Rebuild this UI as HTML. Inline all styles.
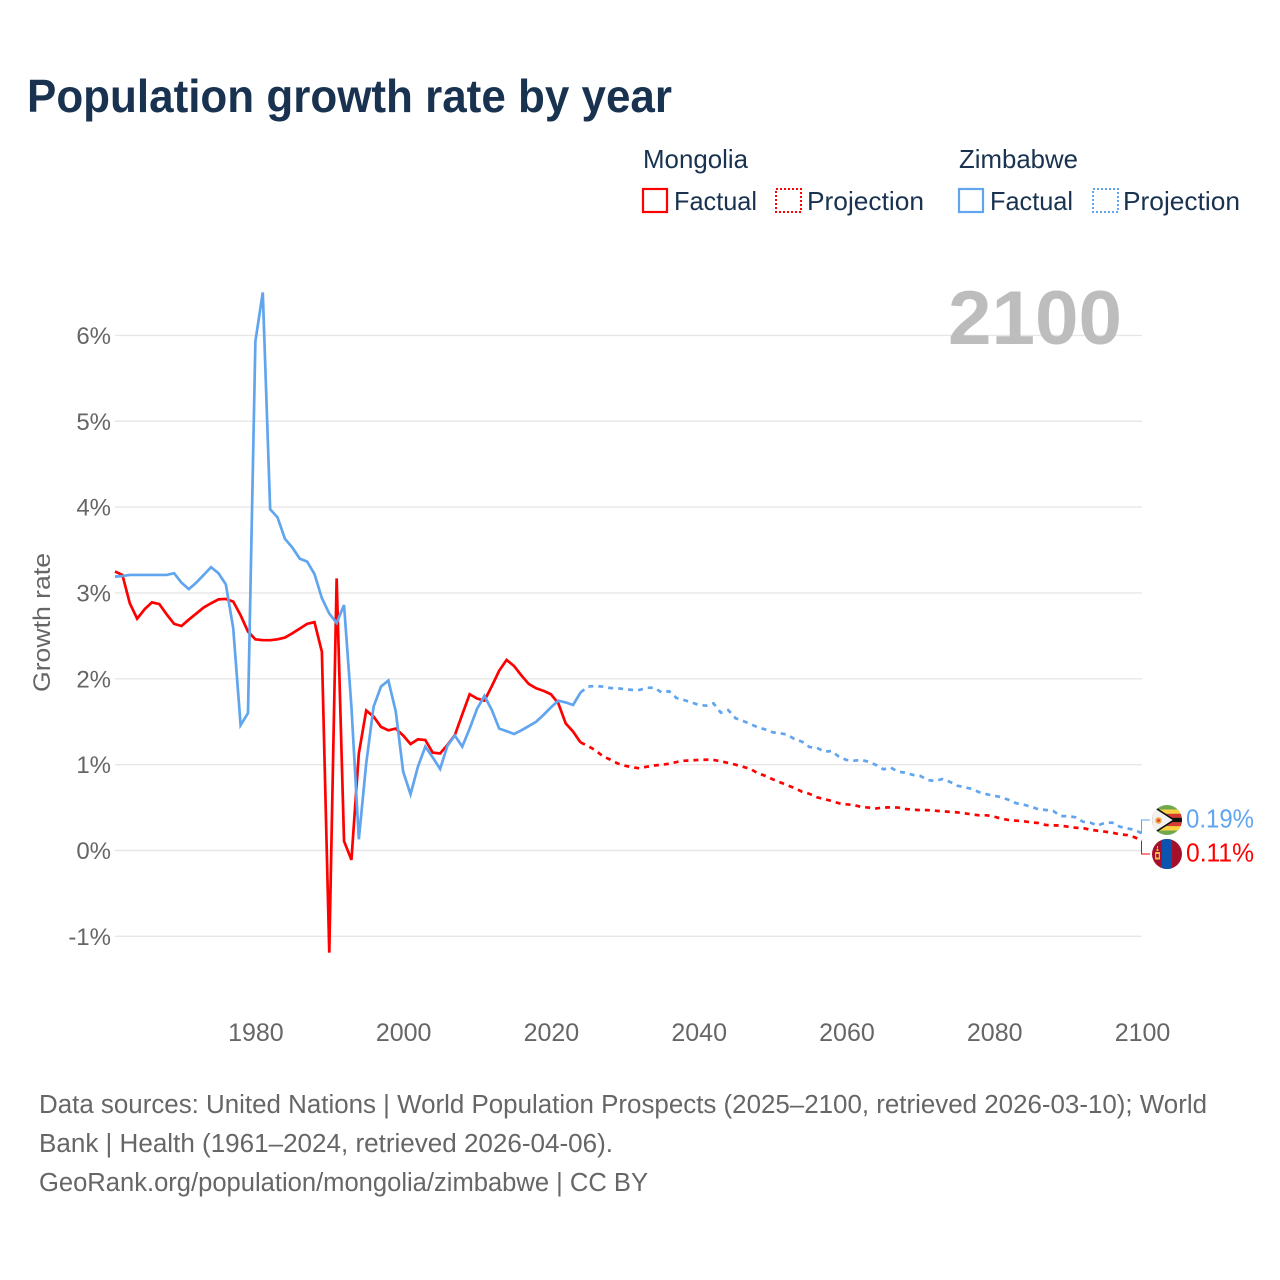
<!DOCTYPE html>
<html lang="en">
<head>
<meta charset="utf-8">
<title>Population growth rate by year</title>
<style>
html,body{margin:0;padding:0;background:#fff;}
svg{display:block;font-family:"Liberation Sans",sans-serif;}
</style>
</head>
<body>
<svg id="chart" xmlns="http://www.w3.org/2000/svg" width="1280" height="1280" viewBox="0 0 1280 1280">
  <rect width="1280" height="1280" fill="#fff"/>
  <text x="27" y="112" font-size="46" font-weight="700" fill="#18324f" textLength="645" lengthAdjust="spacingAndGlyphs">Population growth rate by year</text>

  <g font-size="26" fill="#18324f">
    <text x="643" y="168" textLength="105" lengthAdjust="spacingAndGlyphs">Mongolia</text>
    <g>
      <rect x="643" y="189" width="24" height="23" fill="none" stroke="#ff0000" stroke-width="2.2"/>
      <text x="674" y="210" textLength="83" lengthAdjust="spacingAndGlyphs">Factual</text>
    </g>
    <g>
      <rect x="776" y="189" width="25" height="23" fill="none" stroke="#ff0000" stroke-width="2" stroke-dasharray="2 2"/>
      <text x="807" y="210" textLength="117" lengthAdjust="spacingAndGlyphs">Projection</text>
    </g>
    <text x="959" y="168" textLength="119" lengthAdjust="spacingAndGlyphs">Zimbabwe</text>
    <g>
      <rect x="959" y="189" width="24" height="23" fill="none" stroke="#60a5ee" stroke-width="2.2"/>
      <text x="990" y="210" textLength="83" lengthAdjust="spacingAndGlyphs">Factual</text>
    </g>
    <g>
      <rect x="1093" y="189" width="25" height="23" fill="none" stroke="#60a5ee" stroke-width="2" stroke-dasharray="2 2"/>
      <text x="1123" y="210" textLength="117" lengthAdjust="spacingAndGlyphs">Projection</text>
    </g>
  </g>

  <text transform="translate(50,622.5) rotate(-90)" text-anchor="middle" font-size="24" fill="#666" textLength="139" lengthAdjust="spacingAndGlyphs">Growth rate</text>

  <g id="grid"></g>
  <g id="y-ticks"></g>
  <g id="x-ticks"></g>

  <text x="948" y="344" font-size="76" font-weight="700" fill="#bdbdbd" textLength="174" lengthAdjust="spacingAndGlyphs">2100</text>

  <g id="series"></g>
  <g id="end-labels"></g>

  <defs>
    <clipPath id="clip-zw"><circle cx="1167" cy="820" r="15"/></clipPath>
    <clipPath id="clip-mn"><circle cx="1167" cy="854" r="15"/></clipPath>
  </defs>
  <g clip-path="url(#clip-zw)">
    <rect x="1150" y="805" width="34" height="30" fill="#6fa84f"/>
    <rect x="1150" y="809.5" width="34" height="4.3" fill="#ffd23f"/>
    <rect x="1150" y="813.8" width="34" height="4" fill="#d93a32"/>
    <rect x="1150" y="817.8" width="34" height="4.4" fill="#111"/>
    <rect x="1150" y="822.2" width="34" height="4" fill="#d93a32"/>
    <rect x="1150" y="826.2" width="34" height="4.3" fill="#ffd23f"/>
    <polygon points="1148,803 1174,820 1148,837" fill="#f1f1f1" stroke="#111" stroke-width="1.6"/>
    <circle cx="1158.5" cy="820.5" r="3.2" fill="#f2a33c"/>
    <circle cx="1158.5" cy="820.5" r="1.4" fill="#d93a32"/>
  </g>
  <g clip-path="url(#clip-mn)">
    <rect x="1150" y="838" width="34" height="32" fill="#a5102b"/>
    <rect x="1161.5" y="838" width="10.5" height="32" fill="#0b54b0"/>
    <rect x="1155" y="852" width="5" height="2" fill="#f0c040"/>
    <rect x="1155" y="857.5" width="5" height="2" fill="#f0c040"/>
    <rect x="1155" y="854" width="1.2" height="3.5" fill="#f0c040"/>
    <rect x="1158.8" y="854" width="1.2" height="3.5" fill="#f0c040"/>
    <circle cx="1157.5" cy="850" r="1.1" fill="#f0c040"/>
    <rect x="1157" y="846" width="1" height="2.5" fill="#f0c040"/>
  </g>

  <g font-size="25.5" fill="#666">
    <text x="39" y="1113" textLength="1168" lengthAdjust="spacingAndGlyphs">Data sources: United Nations | World Population Prospects (2025–2100, retrieved 2026-03-10); World</text>
    <text x="39" y="1152" textLength="574" lengthAdjust="spacingAndGlyphs">Bank | Health (1961–2024, retrieved 2026-04-06).</text>
    <text x="39" y="1191" textLength="609" lengthAdjust="spacingAndGlyphs">GeoRank.org/population/mongolia/zimbabwe | CC BY</text>
  </g>
</svg>
<script>
const xTickYears = [1980, 2000, 2020, 2040, 2060, 2080, 2100];
const yTickValues = [-1, 0, 1, 2, 3, 4, 5, 6];
const factualStartYear = 1961;
const projectionStartYear = 2024;

const mongoliaFactual = [3.25,3.21,2.88,2.70,2.81,2.89,2.87,2.75,2.64,2.615,2.69,2.76,2.83,2.88,2.925,2.93,2.90,2.74,2.55,2.46,2.45,2.45,2.46,2.48,2.53,2.585,2.64,2.66,2.315,-1.19,3.17,0.11,-0.11,1.13,1.63,1.56,1.44,1.40,1.42,1.34,1.24,1.295,1.287,1.14,1.13,1.23,1.345,1.585,1.82,1.77,1.745,1.915,2.095,2.22,2.15,2.04,1.94,1.89,1.86,1.82,1.715,1.48,1.385,1.26];
const mongoliaProjection = [1.26,1.217,1.17,1.10,1.06,1.015,0.988,0.97,0.957,0.976,0.99,1.0,1.01,1.03,1.045,1.05,1.055,1.058,1.055,1.04,1.02,1.0,0.975,0.95,0.90,0.87,0.83,0.795,0.76,0.725,0.685,0.66,0.62,0.60,0.576,0.55,0.538,0.53,0.507,0.50,0.49,0.50,0.503,0.50,0.483,0.475,0.47,0.47,0.464,0.456,0.45,0.444,0.433,0.42,0.41,0.41,0.394,0.37,0.355,0.347,0.34,0.328,0.32,0.297,0.293,0.29,0.277,0.265,0.262,0.242,0.23,0.219,0.207,0.188,0.18,0.154,0.115];
const zimbabweFactual = [3.19,3.197,3.21,3.21,3.21,3.21,3.21,3.21,3.23,3.12,3.045,3.12,3.21,3.30,3.23,3.10,2.59,1.46,1.60,5.93,6.50,3.975,3.88,3.63,3.53,3.40,3.365,3.22,2.94,2.76,2.65,2.86,1.675,0.13,1.015,1.675,1.91,1.98,1.62,0.92,0.655,0.977,1.21,1.085,0.95,1.22,1.34,1.21,1.42,1.65,1.80,1.637,1.42,1.39,1.357,1.40,1.45,1.50,1.58,1.667,1.745,1.725,1.695,1.84];
const zimbabweProjection = [1.84,1.91,1.915,1.91,1.893,1.89,1.88,1.87,1.87,1.896,1.896,1.84,1.855,1.776,1.753,1.726,1.695,1.687,1.714,1.605,1.636,1.54,1.508,1.473,1.435,1.41,1.377,1.365,1.35,1.295,1.267,1.205,1.197,1.15,1.16,1.09,1.055,1.046,1.055,1.034,0.996,0.946,0.965,0.918,0.906,0.88,0.868,0.82,0.81,0.833,0.80,0.755,0.736,0.716,0.678,0.655,0.638,0.62,0.588,0.55,0.533,0.51,0.48,0.472,0.46,0.40,0.40,0.387,0.335,0.324,0.29,0.324,0.324,0.277,0.258,0.24,0.20];
const mongoliaEndLabel = "0.11%";
const zimbabweEndLabel = "0.19%";

const NS = "http://www.w3.org/2000/svg";
const MONGOLIA_COLOR = "#ff0000";
const ZIMBABWE_COLOR = "#60a5ee";

function xScale(year) { return 115 + (year - 1961) * (1142 - 115) / 139; }
function yScale(value) { return 850.5 - value * 85.85; }

function linePath(values, startYear) {
  return values.map(function (v, i) {
    return (i ? "L" : "M") + xScale(startYear + i).toFixed(2) + " " + yScale(v).toFixed(2);
  }).join(" ");
}

const gridGroup = document.getElementById("grid");
const yTickGroup = document.getElementById("y-ticks");
const xTickGroup = document.getElementById("x-ticks");
const seriesGroup = document.getElementById("series");
const endGroup = document.getElementById("end-labels");

yTickValues.forEach(function (v) {
  const line = document.createElementNS(NS, "line");
  
  
  line.setAttribute("x1", xScale(1961));
  line.setAttribute("x2", xScale(2100));
  line.setAttribute("y1", yScale(v));
  line.setAttribute("y2", yScale(v));
  line.setAttribute("stroke", "#e7e7e7");
  line.setAttribute("stroke-width", "1.4");
  gridGroup.appendChild(line);

  const label = document.createElementNS(NS, "text");
  
  
  label.setAttribute("x", 111);
  label.setAttribute("y", yScale(v) + 8.5);
  label.setAttribute("text-anchor", "end");
  label.setAttribute("font-size", "24");
  label.setAttribute("fill", "#666");
  label.textContent = v + "%";
  yTickGroup.appendChild(label);
});

xTickYears.forEach(function (year) {
  const label = document.createElementNS(NS, "text");
  
  
  label.setAttribute("x", xScale(year) + 0.5);
  label.setAttribute("y", 1041);
  label.setAttribute("text-anchor", "middle");
  label.setAttribute("font-size", "25");
  label.setAttribute("fill", "#666");
  label.textContent = year;
  xTickGroup.appendChild(label);
});

function drawLine(name, values, startYear, color, dashed) {
  const path = document.createElementNS(NS, "path");
  
  
  path.setAttribute("d", linePath(values, startYear));
  path.setAttribute("fill", "none");
  path.setAttribute("stroke", color);
  path.setAttribute("stroke-width", "2.7");
  if (dashed) path.setAttribute("stroke-dasharray", "5 5");
  seriesGroup.appendChild(path);
}

drawLine("mongolia-factual-line", mongoliaFactual, factualStartYear, MONGOLIA_COLOR, false);
drawLine("mongolia-projection-line", mongoliaProjection, projectionStartYear, MONGOLIA_COLOR, true);
drawLine("zimbabwe-factual-line", zimbabweFactual, factualStartYear, ZIMBABWE_COLOR, false);
drawLine("zimbabwe-projection-line", zimbabweProjection, projectionStartYear, ZIMBABWE_COLOR, true);

function drawEnd(prefix, lastValue, flagY, color, text) {
  const leader = document.createElementNS(NS, "path");
  
  
  leader.setAttribute("d", "M" + (xScale(2100) - 0.5) + " " + yScale(lastValue).toFixed(2) + " V" + flagY + " H1150");
  leader.setAttribute("fill", "none");
  leader.setAttribute("stroke", color);
  leader.setAttribute("stroke-width", "1");
  endGroup.appendChild(leader);

  const label = document.createElementNS(NS, "text");
  
  
  label.setAttribute("x", 1186);
  label.setAttribute("y", flagY + 7.5);
  label.setAttribute("font-size", "26");
  label.setAttribute("fill", color);
  label.setAttribute("textLength", "68");
  label.setAttribute("lengthAdjust", "spacingAndGlyphs");
  label.textContent = text;
  endGroup.appendChild(label);
}

drawEnd("zimbabwe", zimbabweProjection[zimbabweProjection.length - 1], 820, ZIMBABWE_COLOR, zimbabweEndLabel);
drawEnd("mongolia", mongoliaProjection[mongoliaProjection.length - 1], 854, MONGOLIA_COLOR, mongoliaEndLabel);
</script>
</body>
</html>
